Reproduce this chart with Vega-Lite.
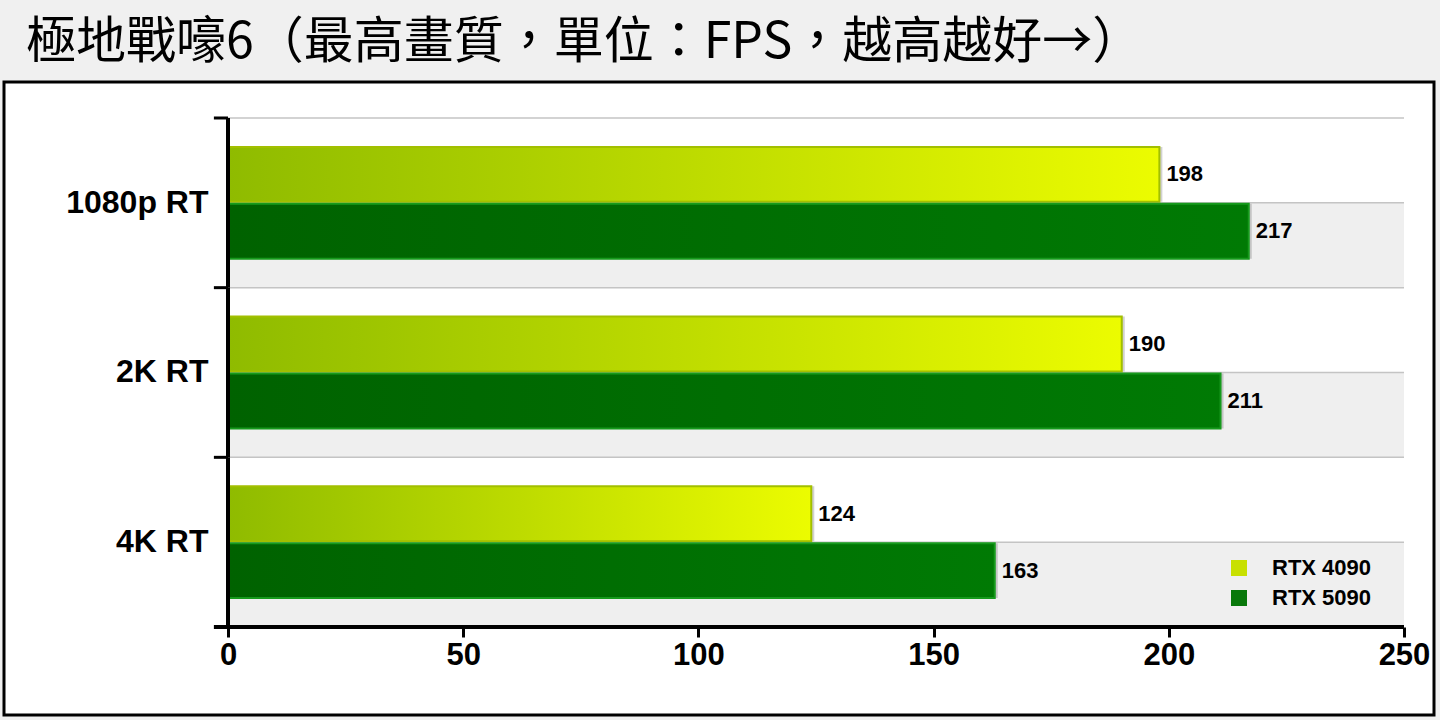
{
  "$schema": "https://vega.github.io/schema/vega-lite/v6.json",
  "width": 1430,
  "height": 633,
  "autosize": {"type": "none"},
  "padding": {"left": 4, "top": 82, "right": 6, "bottom": 5},
  "background": "#f0f0f0",
  "title": {
    "text": "極地戰嚎6（最高畫質，單位：FPS，越高越好→）",
    "anchor": "start",
    "frame": "group",
    "font": "Noto Sans CJK TC",
    "fontSize": 50,
    "fontWeight": "normal",
    "color": "black",
    "offset": 14,
    "dx": 22
  },
  "datasets": {
    "fps": [
      {"cat": "1080p RT", "series": "RTX 4090", "fps": 198},
      {"cat": "1080p RT", "series": "RTX 5090", "fps": 217},
      {"cat": "2K RT", "series": "RTX 4090", "fps": 190},
      {"cat": "2K RT", "series": "RTX 5090", "fps": 211},
      {"cat": "4K RT", "series": "RTX 4090", "fps": 124},
      {"cat": "4K RT", "series": "RTX 5090", "fps": 163}
    ],
    "cats": [
      {"cat": "1080p RT"},
      {"cat": "2K RT"},
      {"cat": "4K RT"}
    ]
  },
  "config": {
    "view": {"fill": "white", "stroke": "black", "strokeWidth": 3},
    "font": "Liberation Sans"
  },
  "layer": [
    {
      "data": {"name": "cats"},
      "mark": {"type": "rule", "color": "#efefef", "strokeWidth": 84.8, "strokeCap": "butt"},
      "encoding": {
        "y": {
          "field": "cat",
          "type": "nominal",
          "bandPosition": 0.75,
          "sort": ["1080p RT", "2K RT", "4K RT"],
          "scale": {"domain": ["1080p RT", "2K RT", "4K RT"], "paddingInner": 0, "paddingOuter": 0.3654, "align": 0.2903},
          "axis": {
            "title": null,
            "domain": false,
            "ticks": false,
            "grid": false,
            "offset": -224,
            "labelPadding": 20,
            "labelFont": "Liberation Sans",
            "labelFontWeight": "bold",
            "labelFontSize": 32,
            "labelColor": "black"
          }
        },
        "x": {
          "datum": 0,
          "type": "quantitative",
          "scale": {"domain": [-47.62, 256.38], "nice": false, "zero": false},
          "axis": {
            "title": null,
            "values": [0, 50, 100, 150, 200, 250],
            "domain": false,
            "grid": false,
            "ticks": true,
            "tickSize": 10,
            "tickWidth": 3,
            "tickColor": "black",
            "offset": -88,
            "labelPadding": 3,
            "labelFlush": false,
            "labelFont": "Liberation Sans",
            "labelFontWeight": "bold",
            "labelFontSize": 31,
            "labelColor": "black"
          }
        },
        "x2": {"datum": 250}
      }
    },
    {
      "data": {"name": "cats"},
      "mark": {"type": "rule", "color": "#c4c4c4", "strokeWidth": 1.5},
      "encoding": {
        "y": {"field": "cat", "type": "nominal", "bandPosition": 0},
        "x": {"datum": 0, "type": "quantitative"},
        "x2": {"datum": 250}
      }
    },
    {
      "data": {"name": "cats"},
      "mark": {"type": "rule", "color": "#c4c4c4", "strokeWidth": 1.5},
      "encoding": {
        "y": {"field": "cat", "type": "nominal", "bandPosition": 0.5},
        "x": {"datum": 0, "type": "quantitative"},
        "x2": {"datum": 250}
      }
    },
    {
      "data": {"name": "fps"},
      "mark": {"type": "bar", "fill": "black", "opacity": 0.18, "xOffset": 3, "yOffset": 3},
      "encoding": {
        "y": {"field": "cat", "type": "nominal"},
        "yOffset": {"field": "series", "type": "nominal", "scale": {"domain": ["RTX 4090", "RTX 5090"], "paddingInner": 0.035, "paddingOuter": 0.509}},
        "x": {"field": "fps", "type": "quantitative"},
        "x2": {"datum": 0}
      }
    },
    {
      "data": {"name": "fps"},
      "transform": [{"filter": "datum.series === 'RTX 4090'"}],
      "mark": {
        "type": "bar",
        "fill": {
          "gradient": "linear", "x1": 0, "y1": 0, "x2": 1, "y2": 0,
          "stops": [
            {"offset": 0, "color": "#8fbb00"},
            {"offset": 0.5, "color": "#bddb00"},
            {"offset": 1, "color": "#ecfc00"}
          ]
        },
        "stroke": "#a2bf00",
        "strokeWidth": 2
      },
      "encoding": {
        "y": {"field": "cat", "type": "nominal"},
        "yOffset": {"field": "series", "type": "nominal"},
        "x": {"field": "fps", "type": "quantitative"},
        "x2": {"datum": 0}
      }
    },
    {
      "data": {"name": "fps"},
      "transform": [{"filter": "datum.series === 'RTX 5090'"}],
      "mark": {
        "type": "bar",
        "fill": {
          "gradient": "linear", "x1": 0, "y1": 0, "x2": 1, "y2": 0,
          "stops": [
            {"offset": 0, "color": "#006200"},
            {"offset": 1, "color": "#007a04"}
          ]
        },
        "stroke": "#169a1c",
        "strokeWidth": 2
      },
      "encoding": {
        "y": {"field": "cat", "type": "nominal"},
        "yOffset": {"field": "series", "type": "nominal"},
        "x": {"field": "fps", "type": "quantitative"},
        "x2": {"datum": 0}
      }
    },
    {
      "data": {"name": "fps"},
      "mark": {"type": "text", "align": "left", "baseline": "middle", "dx": 7, "fontSize": 22, "fontWeight": "bold", "font": "Liberation Sans", "color": "black"},
      "encoding": {
        "y": {"field": "cat", "type": "nominal"},
        "yOffset": {"field": "series", "type": "nominal"},
        "x": {"field": "fps", "type": "quantitative"},
        "text": {"field": "fps", "type": "quantitative"}
      }
    },
    {
      "data": {"name": "cats"},
      "mark": {"type": "rect", "fill": "black"},
      "encoding": {
        "y": {"field": "cat", "type": "nominal"},
        "x": {"datum": -0.42, "type": "quantitative"},
        "x2": {"datum": 0.42}
      }
    },
    {
      "data": {"name": "cats"},
      "mark": {"type": "rule", "color": "black", "strokeWidth": 3},
      "encoding": {
        "y": {"field": "cat", "type": "nominal", "bandPosition": 0},
        "x": {"datum": -3, "type": "quantitative"},
        "x2": {"datum": 0}
      }
    },
    {
      "data": {"name": "cats"},
      "transform": [{"filter": "datum.cat === '4K RT'"}],
      "mark": {"type": "rule", "color": "black", "strokeWidth": 4},
      "encoding": {
        "y": {"field": "cat", "type": "nominal", "bandPosition": 1},
        "x": {"datum": -3, "type": "quantitative"},
        "x2": {"datum": 250}
      }
    },
    {
      "data": {"name": "fps"},
      "mark": {"type": "square", "opacity": 0, "filled": true},
      "encoding": {
        "y": {"field": "cat", "type": "nominal"},
        "x": {"field": "fps", "type": "quantitative"},
        "color": {
          "field": "series",
          "type": "nominal",
          "scale": {"domain": ["RTX 4090", "RTX 5090"], "range": ["#c8e000", "#08780a"]},
          "legend": {
            "title": null,
            "orient": "none",
            "legendX": 1224,
            "legendY": 475,
            "padding": 0,
            "symbolType": "square",
            "symbolSize": 256,
            "symbolOpacity": 1,
            "symbolStrokeWidth": 0,
            "labelOffset": 22,
            "rowPadding": 8,
            "labelFont": "Liberation Sans",
            "labelFontWeight": "bold",
            "labelFontSize": 22,
            "labelColor": "black"
          }
        }
      }
    }
  ]
}
